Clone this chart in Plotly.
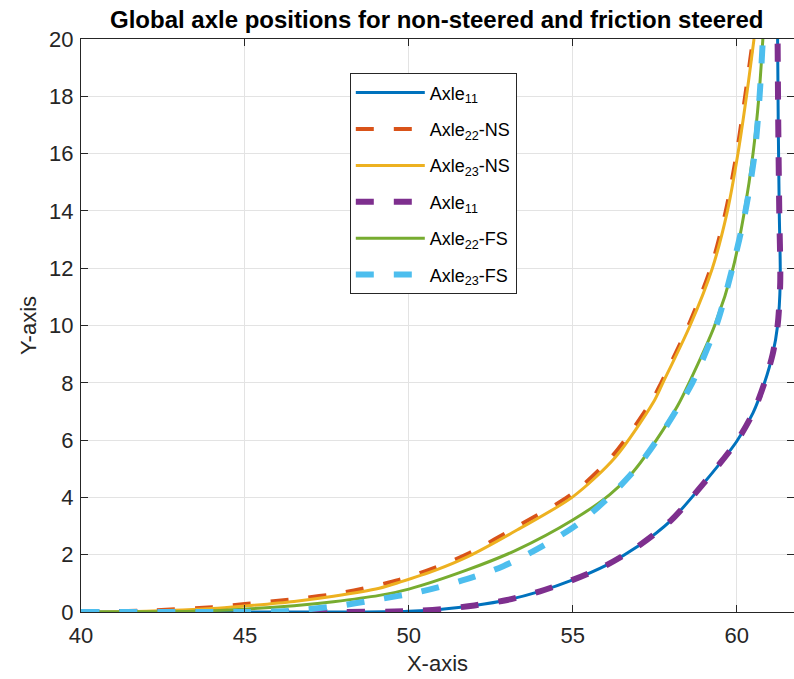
import plotly.graph_objects as go

# ---- data ----
axle11_x = [40, 44, 48, 50, 51, 52, 53, 54, 55, 56, 57, 58, 59, 60, 60.5, 60.85, 61.1, 61.25, 61.33, 61.3, 61.27, 61.25]
axle11_y = [0, 0, 0, 0.03, 0.1, 0.23, 0.42, 0.72, 1.12, 1.62, 2.3, 3.2, 4.5, 5.95, 6.95, 8.0, 9.0, 10.0, 11.5, 14, 17, 20]

axle22ns_x = [40, 42, 44, 45, 46.5, 48, 49.7, 50.8, 51.8, 53.3, 55, 56.25, 57.4, 57.7, 58.53, 59.21, 59.67, 60.0, 60.26, 60.5]
axle22ns_y = [0, 0.05, 0.17, 0.28, 0.45, 0.68, 1.12, 1.55, 2.03, 2.98, 4.14, 5.5, 7.35, 8.0, 10, 12, 14, 16, 18, 20]

axle23ns_x = [40, 42, 44, 45, 46.5, 47.7, 49.1, 49.75, 50.8, 51.8, 53.3, 55, 56.3, 57.45, 57.75, 58.58, 59.26, 59.72, 60.04, 60.3, 60.53]
axle23ns_y = [0, 0.03, 0.12, 0.21, 0.37, 0.55, 0.83, 1.05, 1.45, 1.93, 2.86, 4.02, 5.4, 7.3, 8.0, 10, 12, 14, 16, 18, 20]

axle11fs_x = [40, 44, 48, 50, 51, 52, 53, 54, 55, 56, 57, 58, 59, 60, 60.5, 60.85, 61.1, 61.25, 61.33, 61.3, 61.27, 61.25]
axle11fs_y = [0, 0, 0, 0.03, 0.1, 0.23, 0.42, 0.72, 1.12, 1.62, 2.3, 3.2, 4.5, 5.95, 6.95, 8.0, 9.0, 10.0, 11.5, 14, 17, 20]

axle22fs_x = [40, 42, 43.4, 45, 46.5, 47.7, 49.1, 50, 51.76, 53.28, 55, 56.13, 56.84, 57.55, 58.2, 58.55, 59.33, 59.89, 60.24, 60.5, 60.68, 60.8]
axle22fs_y = [0, 0.01, 0.03, 0.1, 0.22, 0.36, 0.58, 0.8, 1.46, 2.16, 3.21, 4.1, 4.89, 6.0, 7.2, 8.0, 10, 12, 14, 16, 18, 20]

axle23fs_x = [40, 45, 46.0, 46.5, 47.84, 48.96, 50.39, 51.63, 52.88, 54.05, 55.13, 56.1, 57.0, 57.78, 58.47, 58.65, 59.38, 59.87, 60.27, 60.55, 60.7, 60.8]
axle23fs_y = [0, 0, 0.02, 0.05, 0.21, 0.42, 0.72, 1.1, 1.6, 2.28, 3.05, 4.0, 5.1, 6.35, 7.63, 8.0, 10, 12, 14, 16, 18, 20]

x_ticks = [40, 45, 50, 55, 60]
y_ticks = [0, 2, 4, 6, 8, 10, 12, 14, 16, 18, 20]

series = [
    ("Axle<sub>11</sub>", axle11_x, axle11_y, "#0072BD", 3, "solid"),
    ("Axle<sub>22</sub>-NS", axle22ns_x, axle22ns_y, "#D95319", 4, "18px,20px"),
    ("Axle<sub>23</sub>-NS", axle23ns_x, axle23ns_y, "#EDB120", 3, "solid"),
    ("Axle<sub>11</sub>", axle11fs_x, axle11fs_y, "#7E2F8E", 6, "18px,20px"),
    ("Axle<sub>22</sub>-FS", axle22fs_x, axle22fs_y, "#77AC30", 3, "solid"),
    ("Axle<sub>23</sub>-FS", axle23fs_x, axle23fs_y, "#4DBEEE", 6, "18px,20px"),
]

fig = go.Figure()
for i, (name, xs, ys, col, w, dash) in enumerate(series):
    fig.add_trace(go.Scatter(
        x=xs, y=ys, mode="lines", name=name, legendgroup=f"g{i}",
        line=dict(color=col, width=w, dash=dash, shape="spline", smoothing=0.8),
        cliponaxis=False,
    ))

font_family = "Liberation Sans, Arial, sans-serif"
axis_common = dict(
    showline=True, linecolor="#262626", linewidth=1, mirror="ticks",
    ticks="inside", ticklen=7, tickcolor="#262626",
    showgrid=True, gridcolor="#e3e3e3", gridwidth=1, zeroline=False,
    tickfont=dict(family=font_family, size=22, color="#262626"),
)

fig.update_layout(
    width=794, height=679,
    margin=dict(l=81, r=0, t=38.5, b=67),
    paper_bgcolor="white", plot_bgcolor="white",
    title=dict(text="<b>Global axle positions for non-steered and friction steered</b>",
               x=0.55, xanchor="center", y=0.9705, yanchor="middle",
               font=dict(family=font_family, size=24, color="black")),
    xaxis=dict(range=[40, 61.75], tickvals=x_ticks, ticktext=[str(v) for v in x_ticks],
               ticklabelstandoff=4,
               title=dict(text="X-axis", font=dict(family=font_family, size=22, color="#262626"), standoff=8),
               **axis_common),
    yaxis=dict(range=[0, 20], tickvals=y_ticks, ticktext=[str(v) for v in y_ticks],
               ticklabelstandoff=2,
               title=dict(text="Y-axis", font=dict(family=font_family, size=22, color="#262626"), standoff=6),
               **axis_common),
    legend=dict(x=0.377, y=0.94, xanchor="left", yanchor="top",
                bgcolor="white", bordercolor="#262626", borderwidth=1,
                font=dict(family=font_family, size=18, color="black"),
                tracegroupgap=10, itemwidth=69),
    showlegend=True,
)

fig.write_html("out.html")
